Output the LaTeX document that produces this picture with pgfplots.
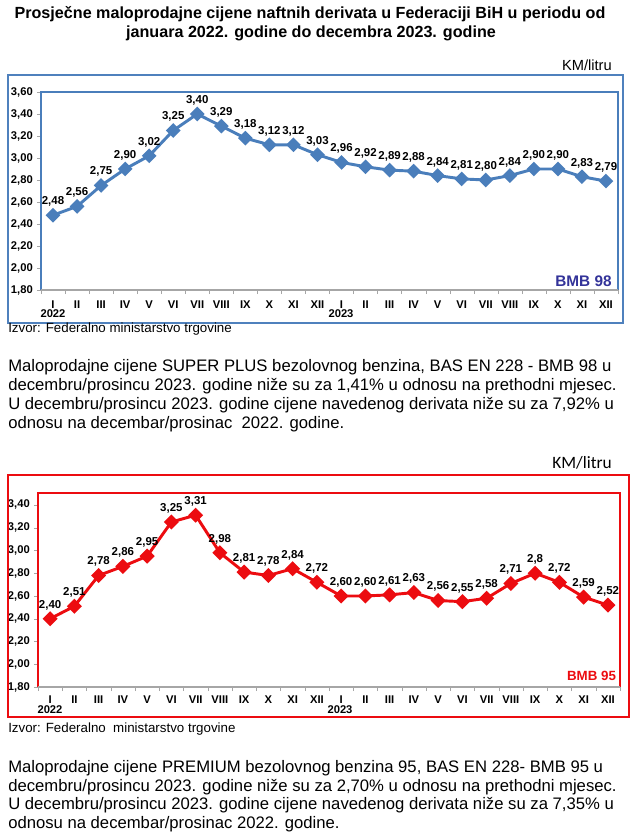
\documentclass[border=0pt]{standalone}
\usepackage{pgfplots}
\pgfplotsset{compat=1.18}
\usepackage{fontspec}
\setmainfont{Liberation Sans}
\newfontfamily\carlito{Carlito}
\definecolor{bl}{RGB}{74,126,187}
\definecolor{bbox}{RGB}{79,129,189}
\definecolor{navy}{RGB}{51,51,153}
\definecolor{rd}{RGB}{236,12,16}

\pgfplotsset{
 fuelaxis/.style={
  scale only axis, xmin=-0.5, xmax=23.5, ymin=1.8,
  clip=false,
  axis line style={draw=none},
  xtick={0,...,23},
  xticklabels={I,II,III,IV,V,VI,VII,VIII,IX,X,XI,XII,I,II,III,IV,V,VI,VII,VIII,IX,X,XI,XII},
  xticklabel style={font=\bfseries\fontsize{8.4}{9}\selectfont, inner sep=1pt},
  major x tick style={draw=none},
  minor xtick={-0.5,0.5,...,23.5},
  minor x tick style={gray!70},
  y tick style={gray!70},
  tick align=outside,
  major tick length=3pt, minor tick length=3pt,
  tick pos=left,
  yticklabel style={font=\bfseries\fontsize{8.4}{9}\selectfont, inner sep=1pt, xshift=-2pt},
  /pgf/number format/.cd, use comma, fixed, fixed zerofill, precision=2, assume math mode=true,
 },
 lbl/.style={nodes near coords, point meta=explicit symbolic,
  every node near coord/.append style={font=\bfseries\fontsize{8.6}{9}\selectfont, black, anchor=south, yshift=4.5pt, inner sep=1pt}},
}

\begin{document}
\begin{tikzpicture}
\useasboundingbox (0,0) rectangle (480pt,-627.75pt);

% ---------- BMB 98 ----------
\begin{axis}[fuelaxis,
  at={(41*0.75pt,-290*0.75pt)}, anchor=south west,
  width=432.75pt, height=148.5pt,
  xticklabel style={yshift=-4pt},
  ymax=3.6, ytick={1.8,2.0,...,3.61}]
\draw[bl, line width=1.5pt] (rel axis cs:0,0) -- (rel axis cs:0,1) -- (rel axis cs:1,1) -- (rel axis cs:1,0);
\draw[gray!70, line width=0.8pt] (rel axis cs:0,0) -- (rel axis cs:1,0);
\addplot[bl, line width=2.2pt, mark=square*, mark size=2.8pt, mark options={rotate=45}, lbl] coordinates {
(0,2.48) [2,48] (1,2.56) [2,56] (2,2.75) [2,75] (3,2.90) [2,90] (4,3.02) [3,02] (5,3.25) [3,25]
(6,3.40) [3,40] (7,3.29) [3,29] (8,3.18) [3,18] (9,3.12) [3,12] (10,3.12) [3,12] (11,3.03) [3,03]
(12,2.96) [2,96] (13,2.92) [2,92] (14,2.89) [2,89] (15,2.88) [2,88] (16,2.84) [2,84] (17,2.81) [2,81]
(18,2.80) [2,80] (19,2.84) [2,84] (20,2.90) [2,90] (21,2.90) [2,90] (22,2.83) [2,83] (23,2.79) [2,79]
};
\node[anchor=south east, font=\bfseries\fontsize{11.5}{12}\selectfont, text=navy, inner sep=1pt] at (axis cs:23.3,1.815) {BMB 98};
\end{axis}

% ---------- BMB 95 ----------
\begin{axis}[fuelaxis,
  at={(38*0.75pt,-687*0.75pt)}, anchor=south west,
  width=436.5pt, height=145.5pt,
  xticklabel style={yshift=-2.3pt},
  ymax=3.505, ytick={1.8,2.0,...,3.41}]
\draw[rd, line width=1.8pt] (rel axis cs:0,0) -- (rel axis cs:0,1) -- (rel axis cs:1,1) -- (rel axis cs:1,0);
\draw[gray!70, line width=0.8pt] (rel axis cs:0,0) -- (rel axis cs:1,0);
\addplot[rd, line width=2.2pt, mark=square*, mark size=2.9pt, mark options={rotate=45}, lbl] coordinates {
(0,2.40) [2,40] (1,2.51) [2,51] (2,2.78) [2,78] (3,2.86) [2,86] (4,2.95) [2,95] (5,3.25) [3,25]
(6,3.31) [3,31] (7,2.98) [2,98] (8,2.81) [2,81] (9,2.78) [2,78] (10,2.84) [2,84] (11,2.72) [2,72]
(12,2.60) [2,60] (13,2.60) [2,60] (14,2.61) [2,61] (15,2.63) [2,63] (16,2.56) [2,56] (17,2.55) [2,55]
(18,2.58) [2,58] (19,2.71) [2,71] (20,2.80) [2,8] (21,2.72) [2,72] (22,2.59) [2,59] (23,2.52) [2,52]
};
\node[anchor=south east, font=\bfseries\fontsize{10}{12}\selectfont, text=rd, inner sep=1pt] at (axis cs:23.4,1.84) {BMB 95};
\end{axis}

\begin{scope}[x=0.75pt, y=-0.75pt]
% year labels
\begin{scope}[every node/.style={font=\bfseries\fontsize{8.4}{9}\selectfont, inner sep=0pt, anchor=base}]
\node at (53,318) {2022};
\node at (341,318) {2023};
\node at (50,713) {2022};
\node at (340,713) {2023};
\end{scope}
% title
\node[font=\bfseries\fontsize{12.1}{14}\selectfont, anchor=base] at (310,19) {Prosječne maloprodajne cijene naftnih derivata u Federaciji BiH u periodu od};
\node[font=\bfseries\fontsize{12.1}{14}\selectfont, anchor=base] at (311,38) {januara 2022. godine do decembra 2023. godine};
% blue box
\draw[bbox, line width=2pt] (8,75) rectangle (623,323);
\node[anchor=base east, font=\fontsize{11}{12}\selectfont, inner sep=0pt] at (612,71) {KM/litru};
\node[anchor=base west, font=\fontsize{10}{11}\selectfont, inner sep=0pt] at (8,333) {Izvor: Federalno ministarstvo trgovine};
% paragraph 1
\begin{scope}[every node/.style={anchor=base west, font=\fontsize{12.5}{14}\selectfont, inner sep=0pt}]
\node at (8,371) {Maloprodajne cijene SUPER PLUS bezolovnog benzina, BAS EN 228 - BMB 98 u};
\node at (8,390) {decembru/prosincu 2023. godine niže su za 1,41\% u odnosu na prethodni mjesec.};
\node at (8,409) {U decembru/prosincu 2023. godine cijene navedenog derivata niže su za 7,92\% u};
\node at (8,428) {odnosu na decembar/prosinac\ \ 2022. godine.};
\end{scope}
% red box
\draw[rd, line width=2.2pt] (8,475) rectangle (629,717);
\node[anchor=base east, font=\carlito\fontsize{13}{14}\selectfont, inner sep=0pt] at (612,468) {KM/litru};
\node[anchor=base west, font=\fontsize{10}{11}\selectfont, inner sep=0pt] at (8,732) {Izvor: Federalno\ \ ministarstvo trgovine};
% paragraph 2
\begin{scope}[every node/.style={anchor=base west, font=\fontsize{12.5}{14}\selectfont, inner sep=0pt}]
\node at (8,772) {Maloprodajne cijene PREMIUM bezolovnog benzina 95, BAS EN 228- BMB 95 u};
\node at (8,791) {decembru/prosincu 2023. godine niže su za 2,70\% u odnosu na prethodni mjesec.};
\node at (8,809) {U decembru/prosincu 2023. godine cijene navedenog derivata niže su za 7,35\% u};
\node at (8,828) {odnosu na decembar/prosinac 2022. godine.};
\end{scope}
\end{scope}
\end{tikzpicture}
\end{document}
